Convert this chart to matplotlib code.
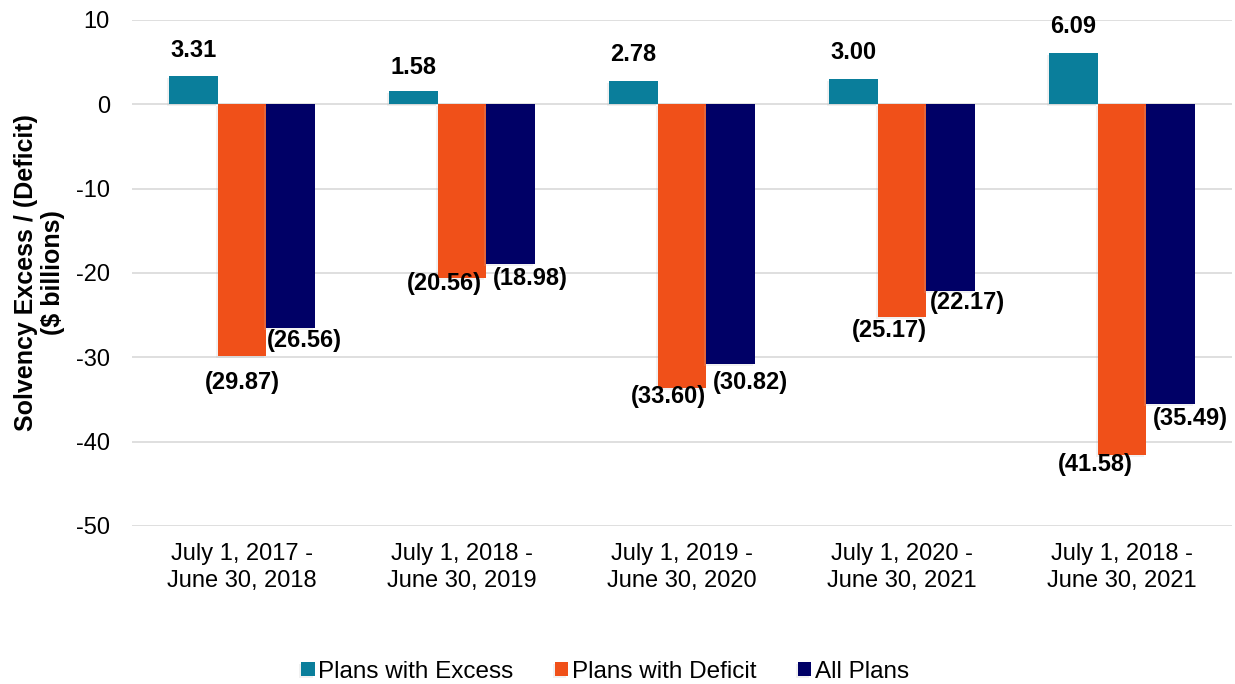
import numpy as np
import matplotlib.pyplot as plt
import matplotlib.patheffects as pe

plt.rcParams['font.family'] = ['Liberation Sans', 'DejaVu Sans']
plt.rcParams['axes.unicode_minus'] = False

periods = ["July 1, 2017 -\nJune 30, 2018", "July 1, 2018 -\nJune 30, 2019",
           "July 1, 2019 -\nJune 30, 2020", "July 1, 2020 -\nJune 30, 2021",
           "July 1, 2018 -\nJune 30, 2021"]
excess = [3.31, 1.58, 2.78, 3.00, 6.09]
deficit = [-29.87, -20.56, -33.60, -25.17, -41.58]
all_plans = [-26.56, -18.98, -30.82, -22.17, -35.49]

series_names = ["Plans with Excess", "Plans with Deficit", "All Plans"]
colors = ["#0A7E9B", "#F05019", "#000066"]

# label offsets (points) from bar end, hand-tuned to mimic the original placement
label_offsets = [
    [(0, 19), (0, -19), (10, -9)],
    [(0, 17), (-13, -4), (14, -10)],
    [(0, 19), (-10, -6.5), (14, -13)],
    [(0, 19), (-9, -10), (12, -8)],
    [(0, 19), (-19, -6.5), (14, -11)],
]

fig = plt.figure(figsize=(12.35, 6.84), dpi=100)
ax = fig.add_axes([0.1069, 0.231, 0.8907, 0.7398])

x = np.arange(len(periods))
w = 0.222
shadow = [pe.SimplePatchShadow(offset=(-1.5, -1.5), shadow_rgbFace='#bbbbbb', alpha=0.2), pe.Normal()]
for k, (vals, col) in enumerate(zip([excess, deficit, all_plans], colors)):
    bars = ax.bar(x + (k - 1) * w, vals, w, color=col, label=series_names[k], zorder=3)
    for b in bars:
        b.set_path_effects(shadow)
    for i, v in enumerate(vals):
        txt = f"{v:.2f}" if v >= 0 else f"({-v:.2f})"
        dx, dy = label_offsets[i][k]
        ax.annotate(txt, (x[i] + (k - 1) * w, v), xytext=(dx, dy), textcoords='offset points',
                    ha='center', va='center', fontsize=17, fontweight='bold', zorder=4)

ax.set_ylim(-50, 10)
ax.set_xlim(-0.5, 4.5)
ax.set_yticks(np.arange(-50, 11, 10))
ax.set_xticks(x)
ax.set_xticklabels(periods, fontsize=17, linespacing=1.3)
ax.tick_params(axis='y', labelsize=17, length=0, pad=16)
ax.tick_params(axis='x', length=0, pad=12)
ax.grid(axis='y', color='#D9D9D9', linewidth=1.2, zorder=0)
for s in ax.spines.values():
    s.set_visible(False)

ax.set_ylabel("Solvency Excess / (Deficit)\n($ billions)", fontsize=18, fontweight='bold',
              linespacing=1.15, labelpad=8)

fig.legend(loc='lower center', bbox_to_anchor=(0.49, -0.03), ncol=3, frameon=False, fontsize=17.5,
           handlelength=0.55, handleheight=0.55, handletextpad=0.15, columnspacing=1.7)

fig.savefig("out.png", dpi=100)
